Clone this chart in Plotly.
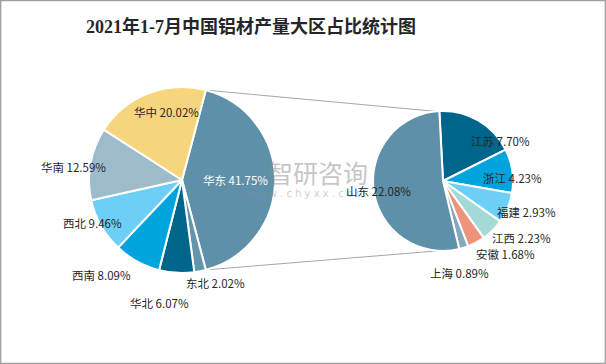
import math
import plotly.graph_objects as go

W, H = 606, 364

title_text = "2021年1-7月中国铝材产量大区占比统计图"
region_labels = ["华东", "东北", "华北", "西南", "西北", "华南", "华中"]
region_values = [41.75, 2.02, 6.07, 8.09, 9.46, 12.59, 20.02]
east_labels = ["江苏", "浙江", "福建", "江西", "安徽", "上海", "山东"]
east_values = [7.70, 4.23, 2.93, 2.23, 1.68, 0.89, 22.08]

region_colors = ["#5E91A9", "#6395AC", "#00658A", "#00A4DC", "#6DCFF6", "#9DBBCA", "#F7D57D"]
east_colors = ["#00658A", "#00A4DC", "#6DCFF6", "#A3DAD7", "#F0937C", "#82A9BC", "#5E91A9"]

# geometry (pixels)
L_CX, L_CY, L_R = 182, 180, 93
R_CX, R_CY, R_R = 443, 181, 70
L_ROT = 90 - region_values[0] / sum(region_values) * 360 / 2
R_ROT = -3

# label placement: (radius factor, angle nudge in degrees)
left_label_pos = [(0.58, 0), (1.16, -6.6), (1.35, 7.2), (1.34, 11.7), (1.07, 4), (1.17, -3.2), (0.75, 8)]
right_label_pos = [(1.0, 25), (0.99, 6), (1.28, -2), (1.39, -9), (1.37, -12), (1.34, 7), (0.93, -1)]
left_label_colors = ["#FFFFFF"] + ["#262626"] * 6
right_label_colors = ["#262626"] * 7

FONT = "Noto Sans CJK SC, Microsoft YaHei, sans-serif"


def dom(cx, cy, r):
    return dict(x=[(cx - r) / W, (cx + r) / W], y=[(H - cy - r) / H, (H - cy + r) / H])


def pt(cx, cy, r, ang):
    a = math.radians(ang)
    return cx + r * math.sin(a), cy - r * math.cos(a)


def px2paper(x, y):
    return x / W, (H - y) / H


fig = go.Figure()
fig.add_trace(go.Pie(
    labels=region_labels, values=region_values, sort=False, direction="clockwise",
    rotation=L_ROT, domain=dom(L_CX, L_CY, L_R), textinfo="none", hoverinfo="label+percent",
    marker=dict(colors=region_colors, line=dict(color="white", width=2)), showlegend=False,
))
fig.add_trace(go.Pie(
    labels=east_labels, values=east_values, sort=False, direction="clockwise",
    rotation=R_ROT, domain=dom(R_CX, R_CY, R_R), textinfo="none", hoverinfo="label+value",
    marker=dict(colors=east_colors, line=dict(color="white", width=2)), showlegend=False,
))

annotations = []


def add_labels(labels, values, rot, cx, cy, r, pos, colors):
    total = sum(values)
    cum = rot
    for lab, v, (f, d), c in zip(labels, values, pos, colors):
        span = v / total * 360
        mid = cum + span / 2
        cum += span
        x, y = pt(cx, cy, f * r, mid + d)
        xp, yp = px2paper(x, y)
        annotations.append(dict(
            x=xp, y=yp, xref="paper", yref="paper", showarrow=False,
            text=f"{lab} {v:.2f}%", font=dict(family=FONT, size=11.5, color=c),
            xanchor="center", yanchor="middle",
        ))


# watermark (drawn first so the data labels sit on top)
annotations.append(dict(x=318 / W, y=(H - 172) / H, xref="paper", yref="paper", showarrow=False,
                        xanchor="center", yanchor="middle",
                        text="智研咨询", font=dict(family=FONT, size=25, color="rgba(140,140,140,0.5)")))
annotations.append(dict(x=306 / W, y=(H - 193) / H, xref="paper", yref="paper", showarrow=False,
                        xanchor="center", yanchor="middle",
                        text="w w w . c h y x x . c o m", font=dict(family="DejaVu Sans", size=10, color="rgba(140,140,140,0.45)")))

add_labels(region_labels, region_values, L_ROT, L_CX, L_CY, L_R, left_label_pos, left_label_colors)
add_labels(east_labels, east_values, R_ROT, R_CX, R_CY, R_R, right_label_pos, right_label_colors)

# title
annotations.append(dict(x=251 / W, y=(H - 27) / H, xref="paper", yref="paper", showarrow=False,
                        xanchor="center", yanchor="middle",
                        text="<b>" + title_text + "</b>",
                        font=dict(family="Liberation Serif, Noto Sans CJK SC, serif", size=18, color="#262626")))

# connector lines between the group slice and the breakdown pie
total_l = sum(region_values)
grp_span = region_values[0] / total_l * 360
l_top = pt(L_CX, L_CY, L_R, L_ROT)
l_bot = pt(L_CX, L_CY, L_R, L_ROT + grp_span)
r_top = pt(R_CX, R_CY, R_R, R_ROT - 3)
r_bot = pt(R_CX, R_CY, R_R, R_ROT + sum(east_values[:-1]) / sum(east_values) * 360)

shapes = []
for a, b in [(l_top, r_top), (l_bot, r_bot)]:
    x0, y0 = px2paper(*a)
    x1, y1 = px2paper(*b)
    shapes.append(dict(type="line", xref="paper", yref="paper", x0=x0, y0=y0, x1=x1, y1=y1,
                       line=dict(color="#A6A6A6", width=1), layer="below"))
shapes.append(dict(type="rect", xref="paper", yref="paper", x0=0.6 / W, y0=0.6 / H, x1=1 - 0.6 / W, y1=1 - 0.6 / H,
                   line=dict(color="#A0A0A0", width=1.5)))

fig.update_layout(
    width=W, height=H, margin=dict(l=0, r=0, t=0, b=0),
    paper_bgcolor="white", plot_bgcolor="white",
    annotations=annotations, shapes=shapes,
)

fig.write_html("out.html", config={"displayModeBar": False},
               post_script="document.body.style.margin='0px';document.body.style.overflow='hidden';")
